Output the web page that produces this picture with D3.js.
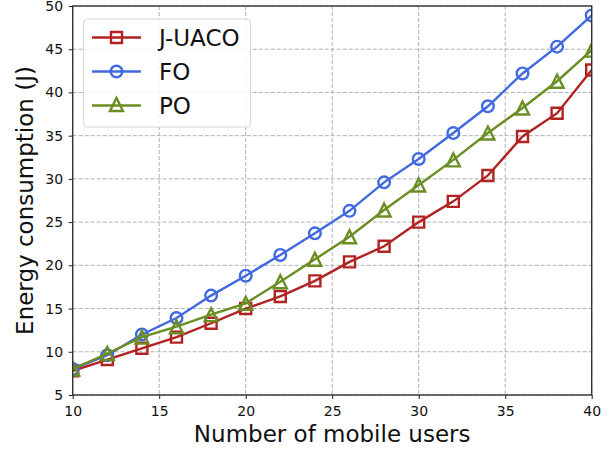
<!DOCTYPE html>
<html>
<head>
<meta charset="utf-8">
<script src="https://cdn.jsdelivr.net/npm/d3@7"></script>
<style>
  html, body { margin: 0; padding: 0; background: #fff; }
  svg { display: block; font-family: "DejaVu Sans", sans-serif; }
</style>
</head>
<body>
<svg id="chart" width="613" height="450"></svg>
<script>
// Number of mobile users
const users = [10, 12, 14, 16, 18, 20, 22, 24, 26, 28, 30, 32, 34, 36, 38, 40];

// Energy consumption (J) per scheme
const juaco = [7.8, 9.1, 10.4, 11.7, 13.3, 15.0, 16.4, 18.2, 20.4, 22.2, 25.0, 27.4, 30.4, 34.9, 37.6, 42.6];
const fo    = [8.0, 9.6, 12.0, 13.9, 16.5, 18.8, 21.2, 23.7, 26.3, 29.6, 32.3, 35.3, 38.4, 42.2, 45.3, 48.9];
const po    = [8.0, 9.8, 11.7, 12.9, 14.3, 15.6, 18.1, 20.7, 23.3, 26.4, 29.3, 32.2, 35.3, 38.2, 41.3, 44.9];

const xTicks = [10, 15, 20, 25, 30, 35, 40];
const yTicks = [5, 10, 15, 20, 25, 30, 35, 40, 45, 50];

const seriesNames = ["J-UACO", "FO", "PO"];
const seriesValues = [juaco, fo, po];
const seriesColors = ["#b22222", "#4169e1", "#6b8e23"];
const seriesMarkers = ["square", "circle", "triangle"];

const svg = d3.select("#chart");
const W = 613, H = 450;
const margin = { left: 72.7, right: W - 591.7, top: 6, bottom: H - 395 };
const innerW = W - margin.left - margin.right;
const innerH = H - margin.top - margin.bottom;

const x = d3.scaleLinear().domain([10, 40]).range([0, innerW]);
const y = d3.scaleLinear().domain([5, 50]).range([innerH, 0]);

const g = svg.append("g").attr("transform", `translate(${margin.left},${margin.top})`);

// grid
g.append("g").selectAll("line").data(xTicks).join("line")
  .attr("x1", d => x(d)).attr("x2", d => x(d)).attr("y1", 0).attr("y2", innerH)
  .attr("stroke", "#b0b0b0").attr("stroke-width", 1).attr("stroke-dasharray", "4,2");
g.append("g").selectAll("line").data(yTicks).join("line")
  .attr("x1", 0).attr("x2", innerW).attr("y1", d => y(d)).attr("y2", d => y(d))
  .attr("stroke", "#b0b0b0").attr("stroke-width", 1).attr("stroke-dasharray", "4,2");

// clip for the plotting area
svg.append("defs").append("clipPath").attr("id", "plotClip")
  .append("rect").attr("x", 0).attr("y", 0).attr("width", innerW).attr("height", innerH);

const plot = g.append("g").attr("clip-path", "url(#plotClip)");

function markerPath(kind, cx, cy) {
  if (kind === "square") {
    const s = 5.5;
    return `M${cx - s},${cy - s}H${cx + s}V${cy + s}H${cx - s}Z`;
  }
  if (kind === "circle") {
    const r = 5.8;
    return `M${cx + r},${cy}A${r},${r} 0 1,1 ${cx - r},${cy}A${r},${r} 0 1,1 ${cx + r},${cy}Z`;
  }
  const a = 6.5;
  return `M${cx},${cy - a}L${cx + a},${cy + a}L${cx - a},${cy + a}Z`;
}

const line = d3.line().x((d, i) => x(users[i])).y(d => y(d));
const LW = 2.4;

seriesValues.forEach((vals, k) => {
  plot.append("path").datum(vals)
    .attr("d", line)
    .attr("fill", "none")
    .attr("stroke", seriesColors[k])
    .attr("stroke-width", LW);
  plot.append("g").selectAll("path").data(vals).join("path")
    .attr("d", (d, i) => markerPath(seriesMarkers[k], x(users[i]), y(d)))
    .attr("fill", "none")
    .attr("stroke", seriesColors[k])
    .attr("stroke-width", LW);
});

// axes
const xAxis = d3.axisBottom(x).tickValues(xTicks).tickSize(4).tickPadding(7);
const yAxis = d3.axisLeft(y).tickValues(yTicks).tickSize(4).tickPadding(5.5);

const gx = g.append("g").attr("transform", `translate(0,${innerH})`).call(xAxis);
const gy = g.append("g").call(yAxis);
[gx, gy].forEach(a => {
  a.select(".domain").remove();
  a.selectAll(".tick line").attr("stroke", "#222").attr("stroke-width", 1);
  a.selectAll(".tick text").attr("fill", "#111").attr("font-size", 14)
    .attr("font-family", "DejaVu Sans, sans-serif");
});

// frame
g.append("rect").attr("x", 0).attr("y", 0).attr("width", innerW).attr("height", innerH)
  .attr("fill", "none").attr("stroke", "#333").attr("stroke-width", 1.4);

// axis titles
svg.append("text")
  .attr("x", margin.left + innerW / 2).attr("y", 442)
  .attr("text-anchor", "middle").attr("font-size", 23).attr("fill", "#111")
  .text("Number of mobile users");
svg.append("text")
  .attr("transform", `translate(33,${margin.top + innerH / 2}) rotate(-90)`)
  .attr("text-anchor", "middle").attr("font-size", 23).attr("fill", "#111")
  .text("Energy consumption (J)");

// legend
const lg = svg.append("g");
lg.append("rect").attr("x", 83.5).attr("y", 19).attr("width", 167).attr("height", 108)
  .attr("rx", 4).attr("fill", "#fff").attr("fill-opacity", 0.85)
  .attr("stroke", "#d6d6d6").attr("stroke-width", 1);
const rowY = [37.5, 71.5, 105.5];
seriesNames.forEach((name, k) => {
  const cy = rowY[k];
  lg.append("line").attr("x1", 92).attr("x2", 141).attr("y1", cy).attr("y2", cy)
    .attr("stroke", seriesColors[k]).attr("stroke-width", LW);
  lg.append("path").attr("d", markerPath(seriesMarkers[k], 116.5, k === 2 ? cy - 1 : cy))
    .attr("fill", "none").attr("stroke", seriesColors[k]).attr("stroke-width", LW);
  lg.append("text").attr("x", 159).attr("y", cy).attr("dy", "0.36em")
    .attr("font-size", 23).attr("fill", "#111").text(name);
});
</script>
</body>
</html>
